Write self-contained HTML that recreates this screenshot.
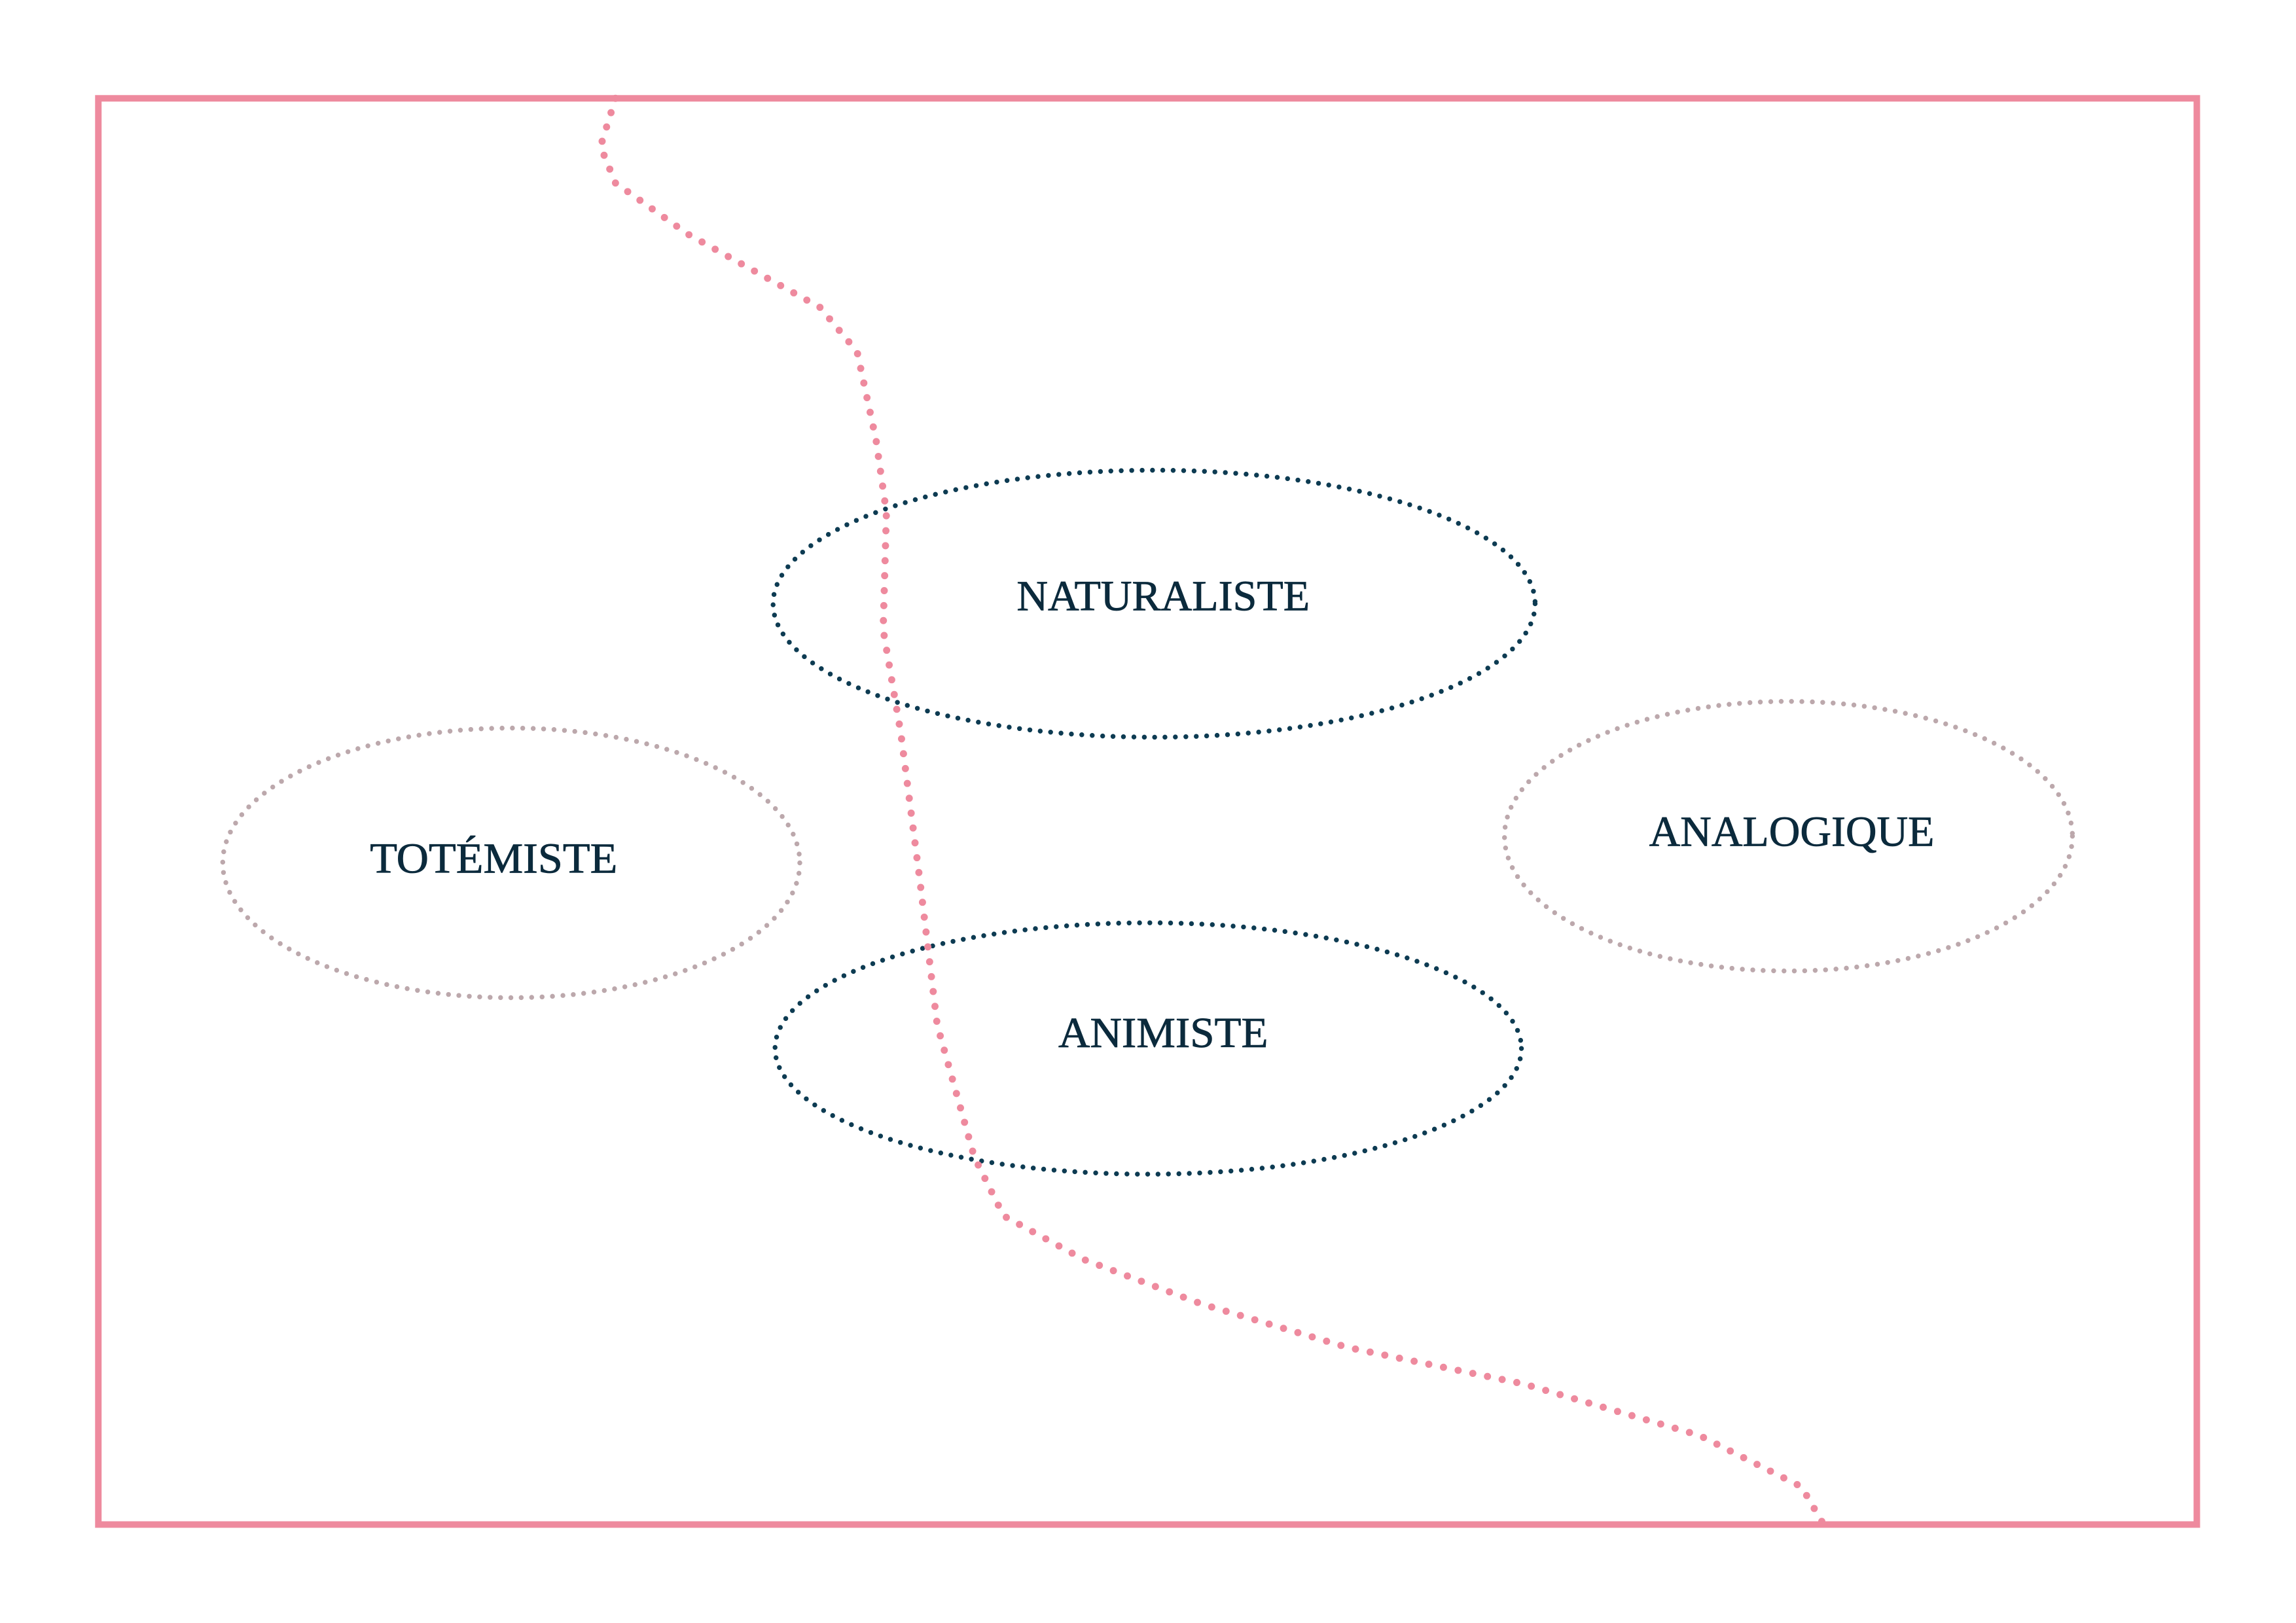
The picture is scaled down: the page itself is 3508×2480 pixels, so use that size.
<!DOCTYPE html>
<html><head><meta charset="utf-8"><style>html,body{margin:0;padding:0;background:#fff}svg{display:block}</style></head>
<body>
<svg width="3508" height="2480" viewBox="0 0 3508 2480" xmlns="http://www.w3.org/2000/svg">
<g transform="scale(0.9951)">
<rect x="151" y="151" width="3222" height="2190" fill="none" stroke="#ee8a9e" stroke-width="10"/>
<g fill="none" stroke-linecap="round">
<ellipse cx="1772" cy="927" rx="585" ry="205" stroke="#0d3b52" stroke-width="7.5" stroke-dasharray="0 16"/>
<ellipse cx="1763" cy="1610" rx="573" ry="193" stroke="#0d3b52" stroke-width="7.5" stroke-dasharray="0 16"/>
<ellipse cx="785" cy="1325" rx="443" ry="207" stroke="#bca8ac" stroke-width="7.5" stroke-dasharray="0 16"/>
<ellipse cx="2746" cy="1284" rx="436" ry="207" stroke="#bca8ac" stroke-width="7.5" stroke-dasharray="0 16"/>
<polyline points="945,151 922,225 945,281 1057,360 1259,472 1316,540 1345,675 1361,787 1356,967 1383,1125 1412,1349 1439,1574 1496,1777 1541,1867 1664,1934 1844,2002 2069,2069 2339,2125 2609,2204 2766,2283 2800,2341" stroke="#ee8a9e" stroke-width="11" stroke-linejoin="round" stroke-dasharray="0 23"/>
</g>
<g font-family="Liberation Serif, serif" font-size="66" fill="#0b2a3c" text-anchor="middle" stroke="#0b2a3c" stroke-width="0.8">
<text x="1786" y="937" textLength="450" lengthAdjust="spacingAndGlyphs">NATURALISTE</text>
<text x="758" y="1340" textLength="380" lengthAdjust="spacingAndGlyphs">TOTÉMISTE</text>
<text x="2751" y="1299" textLength="438" lengthAdjust="spacingAndGlyphs">ANALOGIQUE</text>
<text x="1786" y="1608" textLength="322" lengthAdjust="spacingAndGlyphs">ANIMISTE</text>
</g>
</g>
</svg>
</body></html>
